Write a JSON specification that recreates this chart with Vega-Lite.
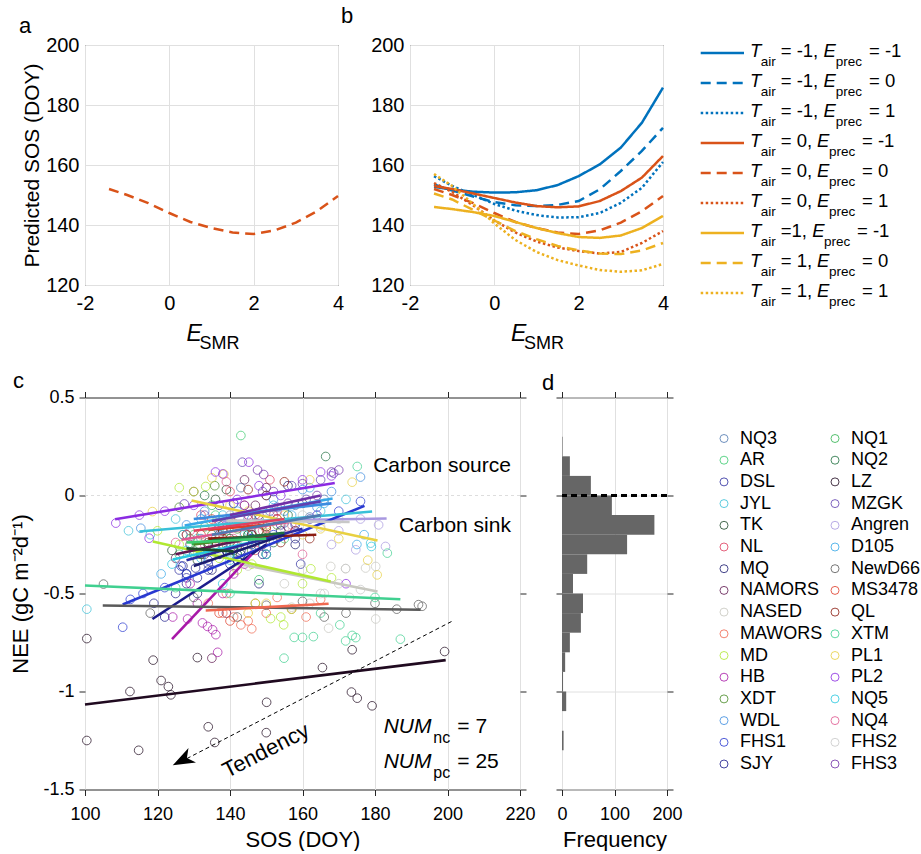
{
"$schema":"https://vega.github.io/schema/vega-lite/v6.json",
"padding":{"left":0,"top":4,"right":0,"bottom":0},
"background":"white",
"config":{"font":"Liberation Sans","view":{"stroke":"#262626","strokeWidth":1},
"axis":{"labelColor":"#000","titleColor":"#000","tickColor":"#262626","domain":false,"labelFlush":false,"labelOverlap":false,"labelFont":"Liberation Sans","titleFont":"Liberation Sans","titleFontWeight":"normal","gridColor":"#e0e0e0"},
"title":{"fontWeight":"normal","font":"Liberation Sans","color":"#000"},
"legend":{"labelFont":"Liberation Sans","labelColor":"#000"}},
"datasets":{
"curveA":[{"esmr":-1.43,"sos":152},{"esmr":-1,"sos":150},{"esmr":-0.5,"sos":147.3},{"esmr":0,"sos":144},{"esmr":0.5,"sos":141},{"esmr":1,"sos":139},{"esmr":1.5,"sos":137.5},{"esmr":2,"sos":137},{"esmr":2.5,"sos":138.2},{"esmr":3,"sos":140.8},{"esmr":3.5,"sos":144.6},{"esmr":4,"sos":149.7}],
"curvesB":[
{"tair":"-1","eprec":"-1","esmr":-1.43,"sos":152.7},{"tair":"-1","eprec":"-1","esmr":-1,"sos":151.8},{"tair":"-1","eprec":"-1","esmr":-0.5,"sos":151.1},{"tair":"-1","eprec":"-1","esmr":0,"sos":150.8},{"tair":"-1","eprec":"-1","esmr":0.5,"sos":150.9},{"tair":"-1","eprec":"-1","esmr":1,"sos":151.6},{"tair":"-1","eprec":"-1","esmr":1.5,"sos":153.3},{"tair":"-1","eprec":"-1","esmr":2,"sos":156.3},{"tair":"-1","eprec":"-1","esmr":2.5,"sos":160.2},{"tair":"-1","eprec":"-1","esmr":3,"sos":165.8},{"tair":"-1","eprec":"-1","esmr":3.5,"sos":174.1},{"tair":"-1","eprec":"-1","esmr":4,"sos":185.8},
{"tair":"-1","eprec":"0","esmr":-1.43,"sos":153.5},{"tair":"-1","eprec":"0","esmr":-1,"sos":151.5},{"tair":"-1","eprec":"0","esmr":-0.5,"sos":149.5},{"tair":"-1","eprec":"0","esmr":0,"sos":147.6},{"tair":"-1","eprec":"0","esmr":0.5,"sos":146.6},{"tair":"-1","eprec":"0","esmr":1,"sos":146.3},{"tair":"-1","eprec":"0","esmr":1.5,"sos":146.7},{"tair":"-1","eprec":"0","esmr":2,"sos":148},{"tair":"-1","eprec":"0","esmr":2.5,"sos":151.9},{"tair":"-1","eprec":"0","esmr":3,"sos":158},{"tair":"-1","eprec":"0","esmr":3.5,"sos":164.7},{"tair":"-1","eprec":"0","esmr":4,"sos":172.4},
{"tair":"-1","eprec":"1","esmr":-1.43,"sos":156.3},{"tair":"-1","eprec":"1","esmr":-1,"sos":153},{"tair":"-1","eprec":"1","esmr":-0.5,"sos":150},{"tair":"-1","eprec":"1","esmr":0,"sos":147},{"tair":"-1","eprec":"1","esmr":0.5,"sos":144.8},{"tair":"-1","eprec":"1","esmr":1,"sos":143.3},{"tair":"-1","eprec":"1","esmr":1.5,"sos":142.5},{"tair":"-1","eprec":"1","esmr":2,"sos":142.6},{"tair":"-1","eprec":"1","esmr":2.5,"sos":144},{"tair":"-1","eprec":"1","esmr":3,"sos":147.4},{"tair":"-1","eprec":"1","esmr":3.5,"sos":152.4},{"tair":"-1","eprec":"1","esmr":4,"sos":161},
{"tair":"0","eprec":"-1","esmr":-1.43,"sos":153},{"tair":"0","eprec":"-1","esmr":-1,"sos":152},{"tair":"0","eprec":"-1","esmr":-0.5,"sos":150.5},{"tair":"0","eprec":"-1","esmr":0,"sos":149},{"tair":"0","eprec":"-1","esmr":0.5,"sos":147.5},{"tair":"0","eprec":"-1","esmr":1,"sos":146.3},{"tair":"0","eprec":"-1","esmr":1.5,"sos":145.9},{"tair":"0","eprec":"-1","esmr":2,"sos":146.2},{"tair":"0","eprec":"-1","esmr":2.5,"sos":148},{"tair":"0","eprec":"-1","esmr":3,"sos":151.3},{"tair":"0","eprec":"-1","esmr":3.5,"sos":155.8},{"tair":"0","eprec":"-1","esmr":4,"sos":163},
{"tair":"0","eprec":"0","esmr":-1.43,"sos":152},{"tair":"0","eprec":"0","esmr":-1,"sos":150},{"tair":"0","eprec":"0","esmr":-0.5,"sos":147.3},{"tair":"0","eprec":"0","esmr":0,"sos":144},{"tair":"0","eprec":"0","esmr":0.5,"sos":141},{"tair":"0","eprec":"0","esmr":1,"sos":139},{"tair":"0","eprec":"0","esmr":1.5,"sos":137.5},{"tair":"0","eprec":"0","esmr":2,"sos":137},{"tair":"0","eprec":"0","esmr":2.5,"sos":138.2},{"tair":"0","eprec":"0","esmr":3,"sos":140.8},{"tair":"0","eprec":"0","esmr":3.5,"sos":144.6},{"tair":"0","eprec":"0","esmr":4,"sos":149.7},
{"tair":"0","eprec":"1","esmr":-1.43,"sos":154},{"tair":"0","eprec":"1","esmr":-1,"sos":151},{"tair":"0","eprec":"1","esmr":-0.5,"sos":146.5},{"tair":"0","eprec":"1","esmr":0,"sos":141.5},{"tair":"0","eprec":"1","esmr":0.5,"sos":137.5},{"tair":"0","eprec":"1","esmr":1,"sos":134.5},{"tair":"0","eprec":"1","esmr":1.5,"sos":132.5},{"tair":"0","eprec":"1","esmr":2,"sos":131.3},{"tair":"0","eprec":"1","esmr":2.5,"sos":130.5},{"tair":"0","eprec":"1","esmr":3,"sos":131},{"tair":"0","eprec":"1","esmr":3.5,"sos":134},{"tair":"0","eprec":"1","esmr":4,"sos":138},
{"tair":"1","eprec":"-1","esmr":-1.43,"sos":146},{"tair":"1","eprec":"-1","esmr":-1,"sos":145.3},{"tair":"1","eprec":"-1","esmr":-0.5,"sos":144.3},{"tair":"1","eprec":"-1","esmr":0,"sos":143},{"tair":"1","eprec":"-1","esmr":0.5,"sos":141},{"tair":"1","eprec":"-1","esmr":1,"sos":139},{"tair":"1","eprec":"-1","esmr":1.5,"sos":137.3},{"tair":"1","eprec":"-1","esmr":2,"sos":136},{"tair":"1","eprec":"-1","esmr":2.5,"sos":135.7},{"tair":"1","eprec":"-1","esmr":3,"sos":136.5},{"tair":"1","eprec":"-1","esmr":3.5,"sos":139},{"tair":"1","eprec":"-1","esmr":4,"sos":143},
{"tair":"1","eprec":"0","esmr":-1.43,"sos":150.5},{"tair":"1","eprec":"0","esmr":-1,"sos":148.5},{"tair":"1","eprec":"0","esmr":-0.5,"sos":145},{"tair":"1","eprec":"0","esmr":0,"sos":141.5},{"tair":"1","eprec":"0","esmr":0.5,"sos":138},{"tair":"1","eprec":"0","esmr":1,"sos":135.3},{"tair":"1","eprec":"0","esmr":1.5,"sos":133},{"tair":"1","eprec":"0","esmr":2,"sos":131.5},{"tair":"1","eprec":"0","esmr":2.5,"sos":130.5},{"tair":"1","eprec":"0","esmr":3,"sos":130.3},{"tair":"1","eprec":"0","esmr":3.5,"sos":131.5},{"tair":"1","eprec":"0","esmr":4,"sos":134},
{"tair":"1","eprec":"1","esmr":-1.43,"sos":157},{"tair":"1","eprec":"1","esmr":-1,"sos":153},{"tair":"1","eprec":"1","esmr":-0.5,"sos":147},{"tair":"1","eprec":"1","esmr":0,"sos":140.5},{"tair":"1","eprec":"1","esmr":0.5,"sos":135},{"tair":"1","eprec":"1","esmr":1,"sos":131},{"tair":"1","eprec":"1","esmr":1.5,"sos":128.3},{"tair":"1","eprec":"1","esmr":2,"sos":126.5},{"tair":"1","eprec":"1","esmr":2.5,"sos":125},{"tair":"1","eprec":"1","esmr":3,"sos":124.4},{"tair":"1","eprec":"1","esmr":3.5,"sos":124.9},{"tair":"1","eprec":"1","esmr":4,"sos":127}],
"legB":[{"r":1,"tair":"-1","eprec":"-1","tv":"= -1,","ev":"= -1"},{"r":2,"tair":"-1","eprec":"0","tv":"= -1,","ev":"= 0"},{"r":3,"tair":"-1","eprec":"1","tv":"= -1,","ev":"= 1"},{"r":4,"tair":"0","eprec":"-1","tv":"= 0,","ev":"= -1"},{"r":5,"tair":"0","eprec":"0","tv":"= 0,","ev":"= 0"},{"r":6,"tair":"0","eprec":"1","tv":"= 0,","ev":"= 1"},{"r":7,"tair":"1","eprec":"-1","tv":"=1,","ev":"= -1"},{"r":8,"tair":"1","eprec":"0","tv":"= 1,","ev":"= 0"},{"r":9,"tair":"1","eprec":"1","tv":"= 1,","ev":"= 1"}],
"hist":[{"lo":0.2,"hi":0.3,"n":1},{"lo":0.1,"hi":0.2,"n":15},{"lo":0,"hi":0.1,"n":55},{"lo":-0.1,"hi":0,"n":95},{"lo":-0.2,"hi":-0.1,"n":176},{"lo":-0.3,"hi":-0.2,"n":124},{"lo":-0.4,"hi":-0.3,"n":48},{"lo":-0.5,"hi":-0.4,"n":21},{"lo":-0.6,"hi":-0.5,"n":40},{"lo":-0.7,"hi":-0.6,"n":36},{"lo":-0.8,"hi":-0.7,"n":15},{"lo":-0.9,"hi":-0.8,"n":6},{"lo":-1.0,"hi":-0.9,"n":2},{"lo":-1.1,"hi":-1.0,"n":8},{"lo":-1.2,"hi":-1.1,"n":0},{"lo":-1.3,"hi":-1.2,"n":3}],
"lns":[
{"s":"PL2","x":108.3,"y":-0.121},{"s":"PL2","x":168.9,"y":0.064},
{"s":"Angren","x":138,"y":-0.132},{"s":"Angren","x":183.2,"y":-0.117},
{"s":"FHS1","x":110.4,"y":-0.556},{"s":"FHS1","x":177.1,"y":-0.053},
{"s":"SJY","x":118.6,"y":-0.63},{"s":"SJY","x":150,"y":-0.25},
{"s":"HB","x":124,"y":-0.733},{"s":"HB","x":146,"y":-0.3},
{"s":"XTM","x":100,"y":-0.459},{"s":"XTM","x":187,"y":-0.529},
{"s":"NewD66","x":104.9,"y":-0.561},{"s":"NewD66","x":192.6,"y":-0.583},
{"s":"LZ","x":100,"y":-1.066},{"s":"LZ","x":199.5,"y":-0.84},
{"s":"MAWORS","x":133.3,"y":-0.587},{"s":"MAWORS","x":167.2,"y":-0.552},
{"s":"NASED","x":143.9,"y":-0.354},{"s":"NASED","x":180.7,"y":-0.49},
{"s":"MD","x":118.7,"y":-0.235},{"s":"MD","x":167.8,"y":-0.439},
{"s":"PL1","x":129.4,"y":-0.026},{"s":"PL1","x":180.7,"y":-0.23},
{"s":"JYL","x":115,"y":-0.184},{"s":"JYL","x":179.2,"y":-0.082},
{"s":"NQ5","x":124.2,"y":-0.327},{"s":"NQ5","x":146.8,"y":-0.235},
{"s":"NQ4","x":126.6,"y":-0.226},{"s":"NQ4","x":157,"y":-0.133},
{"s":"MS3478","x":134,"y":-0.175},{"s":"MS3478","x":149.6,"y":-0.15},
{"s":"QL","x":134,"y":-0.22},{"s":"QL","x":163.8,"y":-0.2},
{"s":"NQ1","x":129.4,"y":-0.248},{"s":"NQ1","x":143.2,"y":-0.218},
{"s":"D105","x":127.5,"y":-0.153},{"s":"D105","x":168.3,"y":-0.015},
{"s":"WDL","x":130,"y":-0.12},{"s":"WDL","x":168,"y":-0.04},
{"s":"FHS2","x":139,"y":-0.128},{"s":"FHS2","x":173,"y":-0.135},
{"s":"MZGK","x":135,"y":-0.13},{"s":"MZGK","x":165,"y":-0.03},
{"s":"FHS3","x":140,"y":-0.1},{"s":"FHS3","x":165,"y":0.0},
{"s":"DSL","x":128,"y":-0.33},{"s":"DSL","x":160,"y":-0.17},
{"s":"MQ","x":130,"y":-0.36},{"s":"MQ","x":155,"y":-0.2},
{"s":"NAMORS","x":125,"y":-0.3},{"s":"NAMORS","x":150,"y":-0.2},
{"s":"TK","x":128,"y":-0.27},{"s":"TK","x":141,"y":-0.285},
{"s":"XDT","x":130,"y":-0.25},{"s":"XDT","x":150,"y":-0.2},
{"s":"NQ2","x":135,"y":-0.23},{"s":"NQ2","x":155,"y":-0.19},
{"s":"NQ3","x":135,"y":-0.2},{"s":"NQ3","x":165,"y":-0.1},
{"s":"AR","x":128,"y":-0.24},{"s":"AR","x":150,"y":-0.22},
{"s":"NL","x":130,"y":-0.18},{"s":"NL","x":155,"y":-0.12}],
"pts":[
{"s":"NQ3","x":132,"y":-0.22},{"s":"NQ3","x":138,"y":-0.15},{"s":"NQ3","x":141,"y":-0.25},{"s":"NQ3","x":145,"y":-0.12},{"s":"NQ3","x":148,"y":-0.18},{"s":"NQ3","x":151,"y":-0.08},{"s":"NQ3","x":155,"y":-0.14},{"s":"NQ3","x":158,"y":-0.05},{"s":"NQ3","x":162,"y":-0.11},{"s":"NQ3","x":166,"y":-0.02},{"s":"NQ3","x":153,"y":-0.22},{"s":"NQ3","x":143,"y":0.04},
{"s":"AR","x":143,"y":0.306},{"s":"AR","x":126,"y":-0.3},{"s":"AR","x":130,"y":-0.2},{"s":"AR","x":134,"y":-0.28},{"s":"AR","x":138,"y":-0.15},{"s":"AR","x":142,"y":-0.25},{"s":"AR","x":146,"y":-0.19},{"s":"AR","x":150,"y":-0.3},{"s":"AR","x":136,"y":-0.1},{"s":"AR","x":155,"y":-0.22},{"s":"AR","x":148,"y":-0.43},
{"s":"DSL","x":126,"y":-0.38},{"s":"DSL","x":130,"y":-0.3},{"s":"DSL","x":134,"y":-0.35},{"s":"DSL","x":138,"y":-0.25},{"s":"DSL","x":142,"y":-0.3},{"s":"DSL","x":146,"y":-0.2},{"s":"DSL","x":150,"y":-0.27},{"s":"DSL","x":154,"y":-0.15},{"s":"DSL","x":158,"y":-0.22},{"s":"DSL","x":162,"y":-0.12},{"s":"DSL","x":128,"y":-0.42},{"s":"DSL","x":137,"y":-0.05},{"s":"DSL","x":159.5,"y":-0.35},
{"s":"JYL","x":100.5,"y":-0.58},{"s":"JYL","x":112,"y":-0.18},{"s":"JYL","x":118,"y":-0.2},{"s":"JYL","x":125,"y":-0.12},{"s":"JYL","x":131,"y":-0.22},{"s":"JYL","x":138,"y":-0.1},{"s":"JYL","x":145,"y":-0.18},{"s":"JYL","x":152,"y":-0.05},{"s":"JYL","x":158,"y":-0.14},{"s":"JYL","x":165,"y":-0.08},{"s":"JYL","x":172,"y":-0.02},{"s":"JYL","x":178.8,"y":-0.243},{"s":"JYL","x":140,"y":-0.33},
{"s":"TK","x":124,"y":-0.28},{"s":"TK","x":128,"y":-0.2},{"s":"TK","x":131,"y":-0.33},{"s":"TK","x":134,"y":-0.25},{"s":"TK","x":137,"y":-0.3},{"s":"TK","x":140,"y":-0.22},{"s":"TK","x":143,"y":-0.3},{"s":"TK","x":136,"y":-0.02},{"s":"TK","x":139,"y":0.03},
{"s":"NL","x":128,"y":-0.2},{"s":"NL","x":132,"y":-0.1},{"s":"NL","x":136,"y":-0.22},{"s":"NL","x":140,"y":-0.14},{"s":"NL","x":144,"y":-0.05},{"s":"NL","x":148,"y":-0.18},{"s":"NL","x":152,"y":-0.1},{"s":"NL","x":156,"y":-0.16},{"s":"NL","x":140,"y":0.02},{"s":"NL","x":147,"y":-0.28},{"s":"NL","x":151,"y":0.08},
{"s":"MQ","x":128,"y":-0.4},{"s":"MQ","x":132,"y":-0.3},{"s":"MQ","x":135,"y":-0.38},{"s":"MQ","x":139,"y":-0.28},{"s":"MQ","x":142,"y":-0.33},{"s":"MQ","x":146,"y":-0.22},{"s":"MQ","x":150,"y":-0.3},{"s":"MQ","x":154,"y":-0.18},{"s":"MQ","x":158,"y":-0.25},{"s":"MQ","x":131,"y":-0.5},{"s":"MQ","x":127,"y":-0.36},{"s":"MQ","x":160,"y":-0.04},{"s":"MQ","x":156,"y":0.05},{"s":"MQ","x":148,"y":-0.45},
{"s":"NAMORS","x":125,"y":-0.32},{"s":"NAMORS","x":129,"y":-0.25},{"s":"NAMORS","x":133,"y":-0.3},{"s":"NAMORS","x":137,"y":-0.2},{"s":"NAMORS","x":141,"y":-0.28},{"s":"NAMORS","x":145,"y":-0.15},{"s":"NAMORS","x":149,"y":-0.25},{"s":"NAMORS","x":153,"y":-0.12},{"s":"NAMORS","x":135,"y":-0.83},{"s":"NAMORS","x":147,"y":-0.05},{"s":"NAMORS","x":150,"y":0.04},{"s":"NAMORS","x":144,"y":0.08},{"s":"NAMORS","x":139,"y":-0.6},
{"s":"NASED","x":145,"y":-0.36},{"s":"NASED","x":150,"y":-0.3},{"s":"NASED","x":155,"y":-0.45},{"s":"NASED","x":160,"y":-0.38},{"s":"NASED","x":165,"y":-0.5},{"s":"NASED","x":167.8,"y":-0.362},{"s":"NASED","x":171.9,"y":-0.373},{"s":"NASED","x":177.4,"y":-0.37},{"s":"NASED","x":180.2,"y":-0.362},{"s":"NASED","x":167.2,"y":-0.677},{"s":"NASED","x":180.2,"y":-0.63},{"s":"NASED","x":162,"y":-0.55},{"s":"NASED","x":170,"y":-0.45},{"s":"NASED","x":157,"y":-0.57},
{"s":"MAWORS","x":134,"y":-0.55},{"s":"MAWORS","x":138,"y":-0.6},{"s":"MAWORS","x":141,"y":-0.62},{"s":"MAWORS","x":143,"y":-0.66},{"s":"MAWORS","x":145,"y":-0.64},{"s":"MAWORS","x":147,"y":-0.55},{"s":"MAWORS","x":150,"y":-0.6},{"s":"MAWORS","x":153,"y":-0.52},{"s":"MAWORS","x":157,"y":-0.58},{"s":"MAWORS","x":161,"y":-0.62},{"s":"MAWORS","x":165,"y":-0.53},{"s":"MAWORS","x":139,"y":-0.5},{"s":"MAWORS","x":146,"y":-0.68},
{"s":"MD","x":120,"y":-0.18},{"s":"MD","x":126,"y":-0.25},{"s":"MD","x":131,"y":-0.3},{"s":"MD","x":137,"y":-0.32},{"s":"MD","x":142,"y":-0.38},{"s":"MD","x":146,"y":-0.35},{"s":"MD","x":151.2,"y":-0.628},{"s":"MD","x":154,"y":-0.62},{"s":"MD","x":154.8,"y":-0.66},{"s":"MD","x":157,"y":-0.58},{"s":"MD","x":160,"y":-0.45},{"s":"MD","x":162.3,"y":-0.374},{"s":"MD","x":168,"y":-0.42},{"s":"MD","x":126,"y":0.04},{"s":"MD","x":147,"y":-0.55},{"s":"MD","x":133.3,"y":0.046},
{"s":"HB","x":124.2,"y":-0.62},{"s":"HB","x":128.3,"y":-0.63},{"s":"HB","x":132.4,"y":-0.65},{"s":"HB","x":133.8,"y":-0.668},{"s":"HB","x":135.2,"y":-0.685},{"s":"HB","x":136.1,"y":-0.71},{"s":"HB","x":136.6,"y":-0.8},{"s":"HB","x":138,"y":-0.5},{"s":"HB","x":141,"y":-0.4},{"s":"HB","x":144,"y":-0.35},{"s":"HB","x":131,"y":-0.55},{"s":"HB","x":129,"y":-0.45},
{"s":"XDT","x":126,"y":-0.06},{"s":"XDT","x":129,"y":-0.22},{"s":"XDT","x":132,"y":-0.3},{"s":"XDT","x":135,"y":-0.2},{"s":"XDT","x":139,"y":-0.25},{"s":"XDT","x":142,"y":-0.17},{"s":"XDT","x":146,"y":-0.28},{"s":"XDT","x":150,"y":-0.2},{"s":"XDT","x":153,"y":-0.15},{"s":"XDT","x":135.8,"y":0.05},
{"s":"WDL","x":128,"y":-0.15},{"s":"WDL","x":133,"y":-0.08},{"s":"WDL","x":137,"y":-0.16},{"s":"WDL","x":141,"y":-0.04},{"s":"WDL","x":146,"y":-0.12},{"s":"WDL","x":150,"y":0.0},{"s":"WDL","x":155,"y":-0.08},{"s":"WDL","x":160,"y":0.03},{"s":"WDL","x":164,"y":-0.06},{"s":"WDL","x":168,"y":0.02},{"s":"WDL","x":176,"y":0.094},{"s":"WDL","x":115.4,"y":-0.167},
{"s":"FHS1","x":110.4,"y":-0.672},{"s":"FHS1","x":116,"y":-0.5},{"s":"FHS1","x":122,"y":-0.47},{"s":"FHS1","x":128,"y":-0.4},{"s":"FHS1","x":134,"y":-0.33},{"s":"FHS1","x":140,"y":-0.3},{"s":"FHS1","x":146,"y":-0.22},{"s":"FHS1","x":152,"y":-0.2},{"s":"FHS1","x":158,"y":-0.15},{"s":"FHS1","x":164,"y":-0.1},{"s":"FHS1","x":170,"y":-0.08},{"s":"FHS1","x":176,"y":-0.03},{"s":"FHS1","x":112.5,"y":-0.53},{"s":"FHS1","x":126.5,"y":-0.36},
{"s":"SJY","x":119,"y":-0.55},{"s":"SJY","x":122,"y":-0.62},{"s":"SJY","x":125,"y":-0.5},{"s":"SJY","x":128,"y":-0.45},{"s":"SJY","x":131,"y":-0.42},{"s":"SJY","x":134,"y":-0.38},{"s":"SJY","x":137,"y":-0.3},{"s":"SJY","x":140,"y":-0.35},{"s":"SJY","x":143,"y":-0.28},{"s":"SJY","x":146,"y":-0.25},{"s":"SJY","x":149,"y":-0.3},{"s":"SJY","x":130.5,"y":-0.37},
{"s":"NQ1","x":127,"y":-0.2},{"s":"NQ1","x":130,"y":-0.28},{"s":"NQ1","x":133,"y":-0.16},{"s":"NQ1","x":136,"y":-0.25},{"s":"NQ1","x":139,"y":-0.18},{"s":"NQ1","x":142,"y":-0.3},{"s":"NQ1","x":145,"y":-0.2},{"s":"NQ1","x":148,"y":-0.12},{"s":"NQ1","x":135,"y":-0.05},
{"s":"NQ2","x":166.4,"y":0.199},{"s":"NQ2","x":134,"y":-0.25},{"s":"NQ2","x":138,"y":-0.18},{"s":"NQ2","x":141,"y":-0.28},{"s":"NQ2","x":145,"y":-0.2},{"s":"NQ2","x":149,"y":-0.15},{"s":"NQ2","x":152,"y":-0.24},{"s":"NQ2","x":156,"y":-0.1},{"s":"NQ2","x":133,"y":0.0},{"s":"NQ2","x":130,"y":0.02},
{"s":"LZ","x":100.5,"y":-0.73},{"s":"LZ","x":100.5,"y":-1.25},{"s":"LZ","x":112.4,"y":-1.0},{"s":"LZ","x":114.8,"y":-1.3},{"s":"LZ","x":118.8,"y":-0.84},{"s":"LZ","x":121,"y":-0.944},{"s":"LZ","x":123,"y":-0.975},{"s":"LZ","x":123.7,"y":-1.017},{"s":"LZ","x":131,"y":-0.827},{"s":"LZ","x":134,"y":-1.18},{"s":"LZ","x":135.8,"y":-1.26},{"s":"LZ","x":150.1,"y":-1.055},{"s":"LZ","x":150,"y":-1.21},{"s":"LZ","x":165.5,"y":-0.878},{"s":"LZ","x":173.5,"y":-1.003},{"s":"LZ","x":175.1,"y":-1.034},{"s":"LZ","x":179.2,"y":-1.073},{"s":"LZ","x":199.2,"y":-0.796},{"s":"LZ","x":173.7,"y":-0.787},
{"s":"MZGK","x":133,"y":-0.1},{"s":"MZGK","x":137,"y":-0.15},{"s":"MZGK","x":141,"y":-0.04},{"s":"MZGK","x":143.4,"y":0.17},{"s":"MZGK","x":145,"y":-0.1},{"s":"MZGK","x":149,"y":0.02},{"s":"MZGK","x":153,"y":-0.06},{"s":"MZGK","x":157,"y":0.05},{"s":"MZGK","x":161,"y":-0.02},{"s":"MZGK","x":165,"y":0.08},{"s":"MZGK","x":168.6,"y":0.114},{"s":"MZGK","x":127.4,"y":-0.043},
{"s":"Angren","x":140,"y":-0.1},{"s":"Angren","x":146,"y":-0.16},{"s":"Angren","x":152,"y":-0.08},{"s":"Angren","x":158,"y":-0.14},{"s":"Angren","x":164,"y":-0.1},{"s":"Angren","x":170,"y":-0.18},{"s":"Angren","x":176,"y":-0.12},{"s":"Angren","x":181,"y":-0.15},{"s":"Angren","x":174.7,"y":-0.277},{"s":"Angren","x":182.9,"y":-0.26},{"s":"Angren","x":168,"y":-0.25},
{"s":"D105","x":127,"y":-0.2},{"s":"D105","x":132,"y":-0.12},{"s":"D105","x":137,"y":-0.18},{"s":"D105","x":142,"y":-0.08},{"s":"D105","x":147,"y":-0.14},{"s":"D105","x":152,"y":-0.02},{"s":"D105","x":157,"y":-0.1},{"s":"D105","x":162,"y":0.04},{"s":"D105","x":166,"y":-0.04},{"s":"D105","x":175,"y":-0.25},{"s":"D105","x":177,"y":-0.2},{"s":"D105","x":121,"y":-0.4},
{"s":"NewD66","x":105.1,"y":-0.452},{"s":"NewD66","x":118,"y":-0.6},{"s":"NewD66","x":130,"y":-0.52},{"s":"NewD66","x":142,"y":-0.62},{"s":"NewD66","x":150,"y":-0.56},{"s":"NewD66","x":160,"y":-0.54},{"s":"NewD66","x":166,"y":-0.62},{"s":"NewD66","x":172,"y":-0.6},{"s":"NewD66","x":180,"y":-0.55},{"s":"NewD66","x":186,"y":-0.58},{"s":"NewD66","x":192,"y":-0.557},{"s":"NewD66","x":193,"y":-0.565},
{"s":"MS3478","x":132,"y":-0.2},{"s":"MS3478","x":135,"y":-0.12},{"s":"MS3478","x":138,"y":-0.22},{"s":"MS3478","x":141,"y":-0.14},{"s":"MS3478","x":144,"y":-0.19},{"s":"MS3478","x":147,"y":-0.1},{"s":"MS3478","x":150,"y":-0.17},{"s":"MS3478","x":153,"y":-0.12},{"s":"MS3478","x":137,"y":-0.6},{"s":"MS3478","x":140,"y":-0.64},
{"s":"QL","x":134,"y":-0.24},{"s":"QL","x":138,"y":-0.18},{"s":"QL","x":142,"y":-0.26},{"s":"QL","x":146,"y":-0.2},{"s":"QL","x":150,"y":-0.16},{"s":"QL","x":154,"y":-0.24},{"s":"QL","x":158,"y":-0.18},{"s":"QL","x":162,"y":-0.22},{"s":"QL","x":150,"y":0.0},{"s":"QL","x":145,"y":0.03},{"s":"QL","x":155,"y":0.07},
{"s":"XTM","x":157.7,"y":-0.724},{"s":"XTM","x":160,"y":-0.724},{"s":"XTM","x":163,"y":-0.72},{"s":"XTM","x":171.9,"y":-0.742},{"s":"XTM","x":173.7,"y":-0.714},{"s":"XTM","x":174.7,"y":-0.725},{"s":"XTM","x":187,"y":-0.733},{"s":"XTM","x":154.9,"y":-0.83},{"s":"XTM","x":170.3,"y":-0.66},{"s":"XTM","x":140,"y":-0.5},{"s":"XTM","x":125,"y":-0.47},{"s":"XTM","x":180,"y":-0.52},{"s":"XTM","x":165,"y":-0.6},{"s":"XTM","x":175.1,"y":0.148},{"s":"XTM","x":183.4,"y":-0.294},
{"s":"PL1","x":118.6,"y":-0.082},{"s":"PL1","x":130,"y":0.02},{"s":"PL1","x":135,"y":0.09},{"s":"PL1","x":138.3,"y":0.109},{"s":"PL1","x":140,"y":-0.05},{"s":"PL1","x":145,"y":-0.08},{"s":"PL1","x":150,"y":-0.15},{"s":"PL1","x":155,"y":-0.1},{"s":"PL1","x":160,"y":-0.2},{"s":"PL1","x":165,"y":-0.17},{"s":"PL1","x":170,"y":-0.22},{"s":"PL1","x":173.7,"y":0.068},{"s":"PL1","x":180.6,"y":-0.405},{"s":"PL1","x":178,"y":-0.33},{"s":"PL1","x":162,"y":0.08},{"s":"PL1","x":150,"y":-0.55},{"s":"PL1","x":145,"y":-0.6},
{"s":"PL2","x":108.5,"y":-0.141},{"s":"PL2","x":115,"y":-0.1},{"s":"PL2","x":122,"y":-0.08},{"s":"PL2","x":130,"y":-0.05},{"s":"PL2","x":136,"y":0.12},{"s":"PL2","x":138,"y":0.11},{"s":"PL2","x":142,"y":-0.02},{"s":"PL2","x":145.2,"y":0.17},{"s":"PL2","x":148,"y":0.05},{"s":"PL2","x":154,"y":0.0},{"s":"PL2","x":160,"y":0.08},{"s":"PL2","x":165,"y":0.12},{"s":"PL2","x":168,"y":0.1},{"s":"PL2","x":172,"y":-0.45},{"s":"PL2","x":117.7,"y":-0.218},
{"s":"NQ5","x":124,"y":-0.35},{"s":"NQ5","x":128,"y":-0.28},{"s":"NQ5","x":132,"y":-0.32},{"s":"NQ5","x":136,"y":-0.25},{"s":"NQ5","x":140,"y":-0.3},{"s":"NQ5","x":144,"y":-0.2},{"s":"NQ5","x":147,"y":-0.26},{"s":"NQ5","x":150,"y":-0.3},{"s":"NQ5","x":179,"y":-0.26},{"s":"NQ5","x":138,"y":-0.45},
{"s":"NQ4","x":125,"y":-0.24},{"s":"NQ4","x":129,"y":-0.18},{"s":"NQ4","x":133,"y":-0.25},{"s":"NQ4","x":137,"y":-0.15},{"s":"NQ4","x":141,"y":-0.22},{"s":"NQ4","x":145,"y":-0.1},{"s":"NQ4","x":149,"y":-0.18},{"s":"NQ4","x":153,"y":-0.08},{"s":"NQ4","x":157,"y":-0.15},{"s":"NQ4","x":139,"y":0.07},{"s":"NQ4","x":160,"y":-0.3},
{"s":"FHS2","x":140,"y":-0.1},{"s":"FHS2","x":145,"y":-0.15},{"s":"FHS2","x":150,"y":-0.12},{"s":"FHS2","x":155,"y":-0.17},{"s":"FHS2","x":160,"y":-0.1},{"s":"FHS2","x":165,"y":-0.16},{"s":"FHS2","x":170,"y":-0.12},{"s":"FHS2","x":166,"y":-0.5},{"s":"FHS2","x":173,"y":-0.52},{"s":"FHS2","x":176,"y":-0.48},{"s":"FHS2","x":171.9,"y":-0.373},
{"s":"FHS3","x":140,"y":-0.12},{"s":"FHS3","x":144,"y":-0.05},{"s":"FHS3","x":147.6,"y":0.13},{"s":"FHS3","x":149.3,"y":0.107},{"s":"FHS3","x":148,"y":-0.1},{"s":"FHS3","x":152,"y":0.02},{"s":"FHS3","x":156,"y":-0.04},{"s":"FHS3","x":160,"y":0.06},{"s":"FHS3","x":164,"y":0.0},{"s":"FHS3","x":168,"y":0.12},{"s":"FHS3","x":170,"y":0.13}]
},
"vconcat":[
{"hconcat":[
 {"width":253,"height":240,
  "title":{"text":"a","anchor":"start","frame":"group","dx":-66,"dy":20,"fontSize":22,"baseline":"alphabetic","offset":0},
  "layer":[
   {"data":{"name":"curveA"},"mark":{"type":"line","color":"#D95319","strokeWidth":2.5,"strokeDash":[10,6]},
    "encoding":{
     "x":{"field":"esmr","type":"quantitative","scale":{"domain":[-2,4],"nice":false,"zero":false},"axis":{"values":[-2,0,2,4],"labelExpr":"''+datum.value","labelFontSize":20,"labelPadding":8,"ticks":false,"grid":true,"title":null}},
     "y":{"field":"sos","type":"quantitative","scale":{"domain":[120,200],"nice":false,"zero":false},"axis":{"values":[120,140,160,180,200],"labelFontSize":20,"labelPadding":6,"ticks":false,"grid":true,"title":"Predicted SOS (DOY)","titleFontSize":21,"titlePadding":3}}}},
   {"data":{"values":[{}]},"mark":{"type":"text","text":"E","fontStyle":"italic","fontSize":23,"align":"left","baseline":"alphabetic"},"encoding":{"x":{"datum":0.407,"type":"quantitative"},"y":{"datum":101.33,"type":"quantitative"}}},
   {"data":{"values":[{}]},"mark":{"type":"text","text":"SMR","fontSize":18,"align":"left","baseline":"alphabetic"},"encoding":{"x":{"datum":0.715,"type":"quantitative"},"y":{"datum":98.57,"type":"quantitative"}}},
   {"data":{"values":[{}]},"mark":{"type":"text","text":"a","fontSize":10,"opacity":0,"align":"left","baseline":"top"},"encoding":{"x":{"datum":-3.992,"type":"quantitative"},"y":{"datum":200,"type":"quantitative"}}}
  ]},
 {"hconcat":[
  {"width":253,"height":240,
   "title":{"text":"b","anchor":"start","frame":"group","dx":-69,"dy":10,"fontSize":22,"baseline":"alphabetic","offset":0},
   "layer":[
    {"data":{"name":"curvesB"},"mark":{"type":"line","strokeWidth":2.5},
     "encoding":{
      "x":{"field":"esmr","type":"quantitative","scale":{"domain":[-2,4],"nice":false,"zero":false},"axis":{"values":[-2,0,2,4],"labelExpr":"''+datum.value","labelFontSize":20,"labelPadding":8,"ticks":false,"grid":true,"title":null}},
      "y":{"field":"sos","type":"quantitative","scale":{"domain":[120,200],"nice":false,"zero":false},"axis":{"values":[120,140,160,180,200],"labelFontSize":20,"labelPadding":6,"ticks":false,"grid":true,"title":null}},
      "color":{"field":"tair","type":"nominal","scale":{"domain":["-1","0","1"],"range":["#0072BD","#D95319","#EDB120"]},"legend":null},
      "strokeDash":{"field":"eprec","type":"nominal","scale":{"domain":["-1","0","1"],"range":[[1,0],[10,6],[2.5,2.5]]},"legend":null}}},
    {"data":{"values":[{}]},"mark":{"type":"text","text":"E","fontStyle":"italic","fontSize":23,"align":"left","baseline":"alphabetic"},"encoding":{"x":{"datum":0.395,"type":"quantitative"},"y":{"datum":101.33,"type":"quantitative"}}},
    {"data":{"values":[{}]},"mark":{"type":"text","text":"SMR","fontSize":18,"align":"left","baseline":"alphabetic"},"encoding":{"x":{"datum":0.703,"type":"quantitative"},"y":{"datum":98.57,"type":"quantitative"}}}
   ]},
  {"width":215,"height":240,"view":{"stroke":null},
   "data":{"name":"legB"},
   "encoding":{"y":{"field":"r","type":"quantitative","scale":{"domain":[0.7333,8.7333],"reverse":true,"nice":false,"zero":false},"axis":null}},
   "layer":[
    {"mark":{"type":"rule","strokeWidth":2.5},
     "encoding":{"x":{"datum":1.7,"type":"quantitative","scale":{"domain":[0,215],"nice":false,"zero":false},"axis":null},"x2":{"datum":45},
      "color":{"field":"tair","type":"nominal","scale":{"domain":["-1","0","1"],"range":["#0072BD","#D95319","#EDB120"]},"legend":null},
      "strokeDash":{"field":"eprec","type":"nominal","scale":{"domain":["-1","0","1"],"range":[[1,0],[10,6],[2.5,2.5]]},"legend":null}}},
    {"mark":{"type":"text","text":"T","fontStyle":"italic","fontSize":18.5,"align":"left","baseline":"alphabetic","dy":3.5},"encoding":{"x":{"datum":51,"type":"quantitative","axis":null}}},
    {"mark":{"type":"text","text":"air","fontSize":13.5,"align":"left","baseline":"alphabetic","dy":13},"encoding":{"x":{"datum":61.7,"type":"quantitative","axis":null}}},
    {"mark":{"type":"text","fontSize":18.5,"align":"left","baseline":"alphabetic","dy":3.5},"encoding":{"x":{"datum":81.7,"type":"quantitative","axis":null},"text":{"field":"tv"}}},
    {"transform":[{"filter":"datum.tair=='-1'"}],"mark":{"type":"text","text":"E","fontStyle":"italic","fontSize":18.5,"align":"left","baseline":"alphabetic","dy":3.5},"encoding":{"x":{"datum":124.5,"type":"quantitative","axis":null}}},
    {"transform":[{"filter":"datum.tair=='-1'"}],"mark":{"type":"text","text":"prec","fontSize":13.5,"align":"left","baseline":"alphabetic","dy":13},"encoding":{"x":{"datum":136.7,"type":"quantitative","axis":null}}},
    {"transform":[{"filter":"datum.tair=='-1'"}],"mark":{"type":"text","fontSize":18.5,"align":"left","baseline":"alphabetic","dy":3.5},"encoding":{"x":{"datum":170,"type":"quantitative","axis":null},"text":{"field":"ev"}}},
    {"transform":[{"filter":"datum.tair=='0'"}],"mark":{"type":"text","text":"E","fontStyle":"italic","fontSize":18.5,"align":"left","baseline":"alphabetic","dy":3.5},"encoding":{"x":{"datum":118,"type":"quantitative","axis":null}}},
    {"transform":[{"filter":"datum.tair=='0'"}],"mark":{"type":"text","text":"prec","fontSize":13.5,"align":"left","baseline":"alphabetic","dy":13},"encoding":{"x":{"datum":130,"type":"quantitative","axis":null}}},
    {"transform":[{"filter":"datum.tair=='0'"}],"mark":{"type":"text","fontSize":18.5,"align":"left","baseline":"alphabetic","dy":3.5},"encoding":{"x":{"datum":163,"type":"quantitative","axis":null},"text":{"field":"ev"}}},
    {"transform":[{"filter":"datum.tair=='1' && datum.eprec!='-1'"}],"mark":{"type":"text","text":"E","fontStyle":"italic","fontSize":18.5,"align":"left","baseline":"alphabetic","dy":3.5},"encoding":{"x":{"datum":118,"type":"quantitative","axis":null}}},
    {"transform":[{"filter":"datum.tair=='1' && datum.eprec!='-1'"}],"mark":{"type":"text","text":"prec","fontSize":13.5,"align":"left","baseline":"alphabetic","dy":13},"encoding":{"x":{"datum":130,"type":"quantitative","axis":null}}},
    {"transform":[{"filter":"datum.tair=='1' && datum.eprec!='-1'"}],"mark":{"type":"text","fontSize":18.5,"align":"left","baseline":"alphabetic","dy":3.5},"encoding":{"x":{"datum":163,"type":"quantitative","axis":null},"text":{"field":"ev"}}},
    {"transform":[{"filter":"datum.r==7"}],"mark":{"type":"text","text":"E","fontStyle":"italic","fontSize":18.5,"align":"left","baseline":"alphabetic","dy":3.5},"encoding":{"x":{"datum":113.3,"type":"quantitative","axis":null}}},
    {"transform":[{"filter":"datum.r==7"}],"mark":{"type":"text","text":"prec","fontSize":13.5,"align":"left","baseline":"alphabetic","dy":13},"encoding":{"x":{"datum":125,"type":"quantitative","axis":null}}},
    {"transform":[{"filter":"datum.r==7"}],"mark":{"type":"text","fontSize":18.5,"align":"left","baseline":"alphabetic","dy":3.5},"encoding":{"x":{"datum":158,"type":"quantitative","axis":null},"text":{"field":"ev"}}}
   ]}
 ],"spacing":36,"bounds":"flush"}
],"spacing":72,"bounds":"flush"},
{"hconcat":[
 {"width":435,"height":392,
  "title":{"text":"c","anchor":"start","frame":"group","dx":-72,"dy":21,"fontSize":22,"baseline":"alphabetic","offset":0},
  "layer":[
   {"data":{"values":[{}]},"mark":{"type":"rule","color":"#d4d4d4","strokeDash":[3,3],"strokeWidth":0.8},"encoding":{"y":{"datum":0,"type":"quantitative","axis":null}}},
   {"data":{"name":"pts"},"mark":{"type":"point","filled":false,"size":75,"strokeWidth":0.8,"opacity":0.9},
    "encoding":{
     "x":{"field":"x","type":"quantitative","scale":{"domain":[100,220],"nice":false,"zero":false},"axis":{"values":[100,120,140,160,180,200,220],"labelFontSize":18,"tickSize":6,"labelPadding":10,"title":"SOS (DOY)","titleFontSize":22,"titlePadding":6}},
     "y":{"field":"y","type":"quantitative","scale":{"domain":[-1.5,0.5],"nice":false,"zero":false},"axis":{"values":[0.5,0,-0.5,-1,-1.5],"labelExpr":"''+datum.value","labelFontSize":18,"tickSize":6,"labelPadding":5,"title":"NEE (gC m⁻²d⁻¹)","titleFontSize":22,"titlePadding":10}},
     "color":{"field":"s","type":"nominal","scale":{"domain":["NQ3","AR","DSL","JYL","TK","NL","MQ","NAMORS","NASED","MAWORS","MD","HB","XDT","WDL","FHS1","SJY","NQ1","NQ2","LZ","MZGK","Angren","D105","NewD66","MS3478","QL","XTM","PL1","PL2","NQ5","NQ4","FHS2","FHS3"],"range":["#4f79b0","#3ccc70","#2c2ca0","#38c0d8","#1e4a2a","#e04060","#1c1c70","#601850","#c8c8c0","#f06850","#b0e830","#a818a8","#4a8c28","#3c8ce0","#2838d0","#1c1c8c","#2fb34f","#1f7040","#200a20","#6040b0","#a898e0","#38a8e8","#5a5a5a","#e03c28","#8c1c10","#40d090","#e8d040","#8a2be2","#28c8e0","#e05890","#c8c8c8","#7030a8"]},
      "legend":{"orient":"none","legendX":630,"legendY":32,"columns":2,"title":null,"symbolType":"circle","symbolSize":64,"symbolStrokeWidth":0.9,"symbolFillColor":"transparent","symbolLimit":50,"labelFontSize":18,"labelOffset":7,"rowPadding":3.7,"columnPadding":3,"padding":0,"labelLimit":200}}}},
   {"data":{"name":"lns"},"mark":{"type":"line","strokeWidth":2.6},
    "encoding":{
     "x":{"field":"x","type":"quantitative","axis":{"orient":"top","values":[100,120,140,160,180,200,220],"labels":false,"tickSize":6,"title":null}},
     "y":{"field":"y","type":"quantitative","axis":{"orient":"right","values":[0.5,0,-0.5,-1,-1.5],"labels":false,"tickSize":6,"title":null}},
     "color":{"field":"s","type":"nominal","legend":null},
     "detail":{"field":"s"}}},
   {"data":{"values":[{}]},"mark":{"type":"rule","color":"#000","strokeDash":[4,3],"strokeWidth":1},"encoding":{"x":{"datum":201.1,"type":"quantitative","axis":null},"x2":{"datum":127.5},"y":{"datum":-0.643,"type":"quantitative","axis":null},"y2":{"datum":-1.348}}},
   {"data":{"values":[{}]},"mark":{"type":"point","shape":"M1,0L-1,-0.75L-0.45,0L-1,0.75Z","filled":true,"color":"#000","opacity":1,"size":480,"angle":152.7},"encoding":{"x":{"datum":126.9,"type":"quantitative","axis":null},"y":{"datum":-1.351,"type":"quantitative","axis":null}}},
   {"data":{"values":[{}]},"mark":{"type":"text","text":"Tendency","fontSize":22,"angle":-27.3,"align":"center","baseline":"middle"},"encoding":{"x":{"datum":149.9,"type":"quantitative","axis":null},"y":{"datum":-1.301,"type":"quantitative","axis":null}}},
   {"data":{"values":[{}]},"mark":{"type":"text","text":"Carbon source","fontSize":21,"align":"right","baseline":"alphabetic"},"encoding":{"x":{"datum":217.5,"type":"quantitative","axis":null},"y":{"datum":0.122,"type":"quantitative","axis":null}}},
   {"data":{"values":[{}]},"mark":{"type":"text","text":"Carbon sink","fontSize":21,"align":"right","baseline":"alphabetic"},"encoding":{"x":{"datum":217.5,"type":"quantitative","axis":null},"y":{"datum":-0.184,"type":"quantitative","axis":null}}},
   {"data":{"values":[{}]},"mark":{"type":"text","text":"NUM","fontSize":21,"fontStyle":"italic","align":"left","baseline":"alphabetic"},"encoding":{"x":{"datum":182.4,"type":"quantitative","axis":null},"y":{"datum":-1.213,"type":"quantitative","axis":null}}},
   {"data":{"values":[{}]},"mark":{"type":"text","text":"nc","fontSize":16,"align":"left","baseline":"alphabetic"},"encoding":{"x":{"datum":196.1,"type":"quantitative","axis":null},"y":{"datum":-1.264,"type":"quantitative","axis":null}}},
   {"data":{"values":[{}]},"mark":{"type":"text","text":"= 7","fontSize":21,"align":"left","baseline":"alphabetic"},"encoding":{"x":{"datum":202.7,"type":"quantitative","axis":null},"y":{"datum":-1.213,"type":"quantitative","axis":null}}},
   {"data":{"values":[{}]},"mark":{"type":"text","text":"NUM","fontSize":21,"fontStyle":"italic","align":"left","baseline":"alphabetic"},"encoding":{"x":{"datum":182.4,"type":"quantitative","axis":null},"y":{"datum":-1.391,"type":"quantitative","axis":null}}},
   {"data":{"values":[{}]},"mark":{"type":"text","text":"pc","fontSize":16,"align":"left","baseline":"alphabetic"},"encoding":{"x":{"datum":196.1,"type":"quantitative","axis":null},"y":{"datum":-1.442,"type":"quantitative","axis":null}}},
   {"data":{"values":[{}]},"mark":{"type":"text","text":"= 25","fontSize":21,"align":"left","baseline":"alphabetic"},"encoding":{"x":{"datum":202.7,"type":"quantitative","axis":null},"y":{"datum":-1.391,"type":"quantitative","axis":null}}},
   {"data":{"values":[{}]},"mark":{"type":"text","text":"c","fontSize":10,"opacity":0,"align":"left","baseline":"top"},"encoding":{"x":{"datum":77.93,"type":"quantitative","axis":null},"y":{"datum":0.5,"type":"quantitative","axis":null}}}
  ],
  "resolve":{"axis":{"x":"independent","y":"independent"}}},
 {"width":105,"height":392,
  "title":{"text":"d","anchor":"start","frame":"group","dx":-20,"dy":21,"fontSize":22,"baseline":"alphabetic","offset":0},
  "data":{"name":"hist"},
  "layer":[
   {"mark":{"type":"rect","color":"#666666"},
    "encoding":{
     "x":{"field":"n","type":"quantitative","scale":{"domain":[0,200],"nice":false,"zero":false},"axis":{"values":[0,100,200],"labelFontSize":18,"tickSize":6,"labelPadding":10,"title":"Frequency","titleFontSize":22,"titlePadding":6}},
     "x2":{"datum":0},
     "y":{"field":"lo","type":"quantitative","scale":{"domain":[-1.5,0.5],"nice":false,"zero":false},"axis":{"values":[0.5,0,-0.5,-1,-1.5],"labels":false,"tickSize":6,"title":null}},
     "y2":{"field":"hi"}}},
   {"mark":{"type":"point","opacity":0},
    "encoding":{
     "x":{"field":"n","type":"quantitative","axis":{"orient":"top","values":[0,100,200],"labels":false,"tickSize":6,"title":null}},
     "y":{"field":"lo","type":"quantitative","axis":{"orient":"right","values":[0.5,0,-0.5,-1,-1.5],"labels":false,"tickSize":6,"title":null}}}},
   {"mark":{"type":"rule","color":"#000","strokeDash":[6,4],"strokeWidth":1.3},"encoding":{"y":{"datum":0,"type":"quantitative","axis":null}}}
  ],
  "resolve":{"axis":{"x":"independent","y":"independent"}}}
],"spacing":42,"bounds":"flush"}
],
"spacing":14.5,
"resolve":{"scale":{"color":"independent","strokeDash":"independent"}}
}
